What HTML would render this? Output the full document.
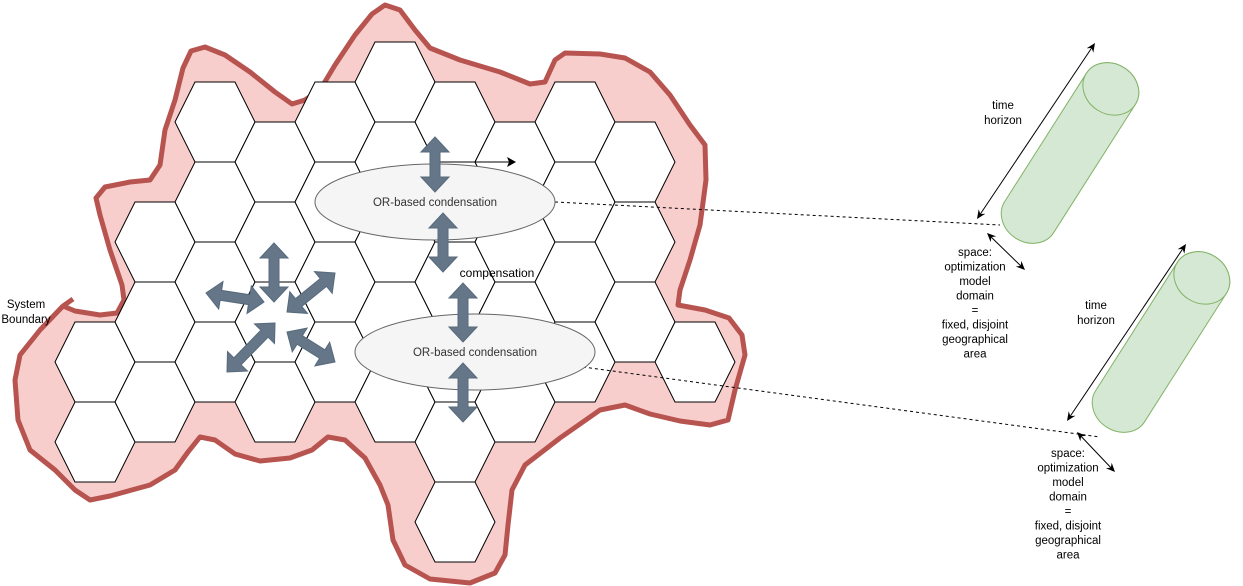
<!DOCTYPE html>
<html><head><meta charset="utf-8"><style>
html,body{margin:0;padding:0;background:#fff;}
svg{display:block;font-family:"Liberation Sans",sans-serif;}
</style></head><body>
<svg id="s" width="1243" height="586" viewBox="0 0 1243 586" xmlns="http://www.w3.org/2000/svg">
<path fill="#f8cecc" stroke="#b85450" stroke-width="5" stroke-linejoin="round"
d="M73,299 L63,306 L75,311 L100,315 L117,313 L124,300 L122,285 L110,250 L100,215 L96,198 L105,187 L130,182 L150,180 L160,165 L165,130 L175,100 L183,68 L191,51 L205,47 L225,55 L250,72 L275,92 L292,104 L305,100 L320,90 L335,65 L355,35 L372,14 L385,5 L400,10 L415,30 L430,48 L460,60 L500,72 L530,84 L545,82 L555,60 L565,53 L600,54 L625,58 L650,72 L670,95 L690,125 L705,145 L706,180 L700,225 L690,260 L680,290 L678,305 L705,310 L729,318 L742,335 L745,355 L735,390 L728,420 L710,425 L680,421 L650,414 L625,405 L600,410 L560,438 L525,465 L512,490 L508,525 L505,555 L495,573 L470,583 L430,579 L405,565 L393,540 L388,505 L380,485 L365,458 L345,440 L328,437 L312,450 L290,458 L260,461 L235,454 L215,440 L200,437 L188,452 L175,470 L150,485 L110,496 L90,500 L75,490 L55,470 L30,450 L18,420 L15,380 L20,355 L40,330 L63,306"/>
<g id="hexes"></g>
<line x1="435" y1="162" x2="510" y2="162" stroke="#000" stroke-width="1"/>
<polygon points="516,162 507,157 509,162 507,167" fill="#000"/>
<line x1="555" y1="202" x2="1000" y2="225" stroke="#000" stroke-dasharray="3,3"/>
<line x1="583" y1="367" x2="1100" y2="437" stroke="#000" stroke-dasharray="3,3"/>
<g>
<ellipse cx="435" cy="202" rx="120" ry="38" fill="#f5f5f5" stroke="#666"/>
<text x="435" y="206" font-size="11.5" text-anchor="middle" fill="#333">OR-based condensation</text></g>
<g>
<ellipse cx="475" cy="352" rx="120" ry="38" fill="#f5f5f5" stroke="#666"/>
<text x="475" y="356" font-size="11.5" text-anchor="middle" fill="#333">OR-based condensation</text></g>
<text x="497" y="277" font-size="12" text-anchor="middle">compensation</text>
<text font-size="11.5" text-anchor="middle"><tspan x="26" y="308">System</tspan><tspan x="26" y="323">Boundary</tspan></text>
<g id="garrows"></g>
<g id="cyl"></g>
</svg>
<script>
const hexCols=[0,1,2,3,4,5,6,7,8,9,10];
const hexTops=[[322,402],[202,282,362],[82,162,242,322],[122,202,282,362],[82,162,242,322],[42,122,202,282,362],[82,162,242,322,402,482],[122,202,282,362],[82,162,242,322],[122,202,282],[322]];
const NS="http://www.w3.org/2000/svg";
const hg=document.getElementById('hexes');
function hexPts(L,t){return [[L,t+40],[L+20,t],[L+60,t],[L+80,t+40],[L+60,t+80],[L+20,t+80]].map(p=>p.join(',')).join(' ');}
{const p=document.createElementNS(NS,'polygon');p.setAttribute('points',hexPts(515,122));p.setAttribute('fill','#fff');p.setAttribute('stroke','#000');


hg.appendChild(p);}
hexCols.forEach(c=>{hexTops[c].forEach(t=>{
const p=document.createElementNS(NS,'polygon');
p.setAttribute('points',hexPts(55+60*c,t));p.setAttribute('fill','#fff');p.setAttribute('stroke','#000');p.setAttribute('stroke-width','1');


hg.appendChild(p);});});
const arrowsG=[[435,137,435,192],[443,213,443,272],[463,283,463,342],[463,363,463,422],[274,243,274,302],[206,293,264,302],[335,273,287,312],[275,323,227,372],[287,332,335,362]];
const ag=document.getElementById('garrows');
arrowsG.forEach(a=>{
const [x1,y1,x2,y2]=a;const dx=x2-x1,dy=y2-y1,len=Math.hypot(dx,dy),ux=dx/len,uy=dy/len,nx=-uy,ny=ux;
const hl=15,hw=14,sw=5;
const P=(s,w)=>[(x1+ux*s+nx*w).toFixed(1),(y1+uy*s+ny*w).toFixed(1)].join(',');
const pts=[P(0,0),P(hl,hw),P(hl,sw),P(len-hl,sw),P(len-hl,hw),P(len,0),P(len-hl,-hw),P(len-hl,-sw),P(hl,-sw),P(hl,-hw)];
const p=document.createElementNS(NS,'polygon');p.setAttribute('points',pts.join(' '));p.setAttribute('fill','#647687');p.setAttribute('stroke','#576a7c');


ag.appendChild(p);});
const cg=document.getElementById('cyl');
function cylinder(cx,cy,idx,timeArrow,spaceArrow,timeTxt,spaceTxt){
const g=document.createElementNS(NS,'g');


g.setAttribute('transform',`translate(${cx},${cy}) rotate(-57.5)`);
const L=76,W=29,R=25;
g.innerHTML=`<path d="M${-L},${-W} L${L},${-W} A${R},${W} 0 0 1 ${L},${W} L${-L},${W} A${R},${W} 0 0 1 ${-L},${-W} Z" fill="#d5e8d4" stroke="#82b366"/><ellipse cx="${L}" cy="0" rx="${R}" ry="${W}" fill="#d5e8d4" stroke="#82b366"/>`;
cg.appendChild(g);
[timeArrow,spaceArrow].forEach((a,k)=>{
const ln=document.createElementNS(NS,'g');


const [x1,y1,x2,y2]=a;const dx=x2-x1,dy=y2-y1,l=Math.hypot(dx,dy),ux=dx/l,uy=dy/l;
const head=(x,y,sx,sy)=>`<polygon points="${x},${y} ${x-sx*9-sy*4},${y-sy*9+sx*4} ${x-sx*6},${y-sy*6} ${x-sx*9+sy*4},${y-sy*9-sx*4}" fill="#000"/>`;
ln.innerHTML=`<line x1="${x1+ux*5}" y1="${y1+uy*5}" x2="${x2-ux*5}" y2="${y2-uy*5}" stroke="#000"/>`+head(x2,y2,ux,uy)+head(x1,y1,-ux,-uy);
cg.appendChild(ln);});
const t1=document.createElementNS(NS,'text');


t1.setAttribute('font-size','11.5');t1.setAttribute('text-anchor','middle');
t1.innerHTML=`<tspan x="${timeTxt[0]}" y="${timeTxt[1]}">time</tspan><tspan x="${timeTxt[0]}" y="${timeTxt[1]+15}">horizon</tspan>`;
cg.appendChild(t1);
const lines=['space:','optimization','model','domain','=','fixed, disjoint','geographical','area'];
const t2=document.createElementNS(NS,'text');


t2.setAttribute('font-size','11.5');t2.setAttribute('text-anchor','middle');
t2.innerHTML=lines.map((s,i)=>`<tspan x="${spaceTxt[0]}" y="${spaceTxt[1]+i*14.5}">${s}</tspan>`).join('');
cg.appendChild(t2);
}
cylinder(1070,153,1,[977,219,1095,43],[987,233,1025,270],[1003,109],[975,256]);
cylinder(1161,342,2,[1067,421,1186,244],[1077,432,1115,472],[1096,309],[1068,457]);
</script>
</body></html>
